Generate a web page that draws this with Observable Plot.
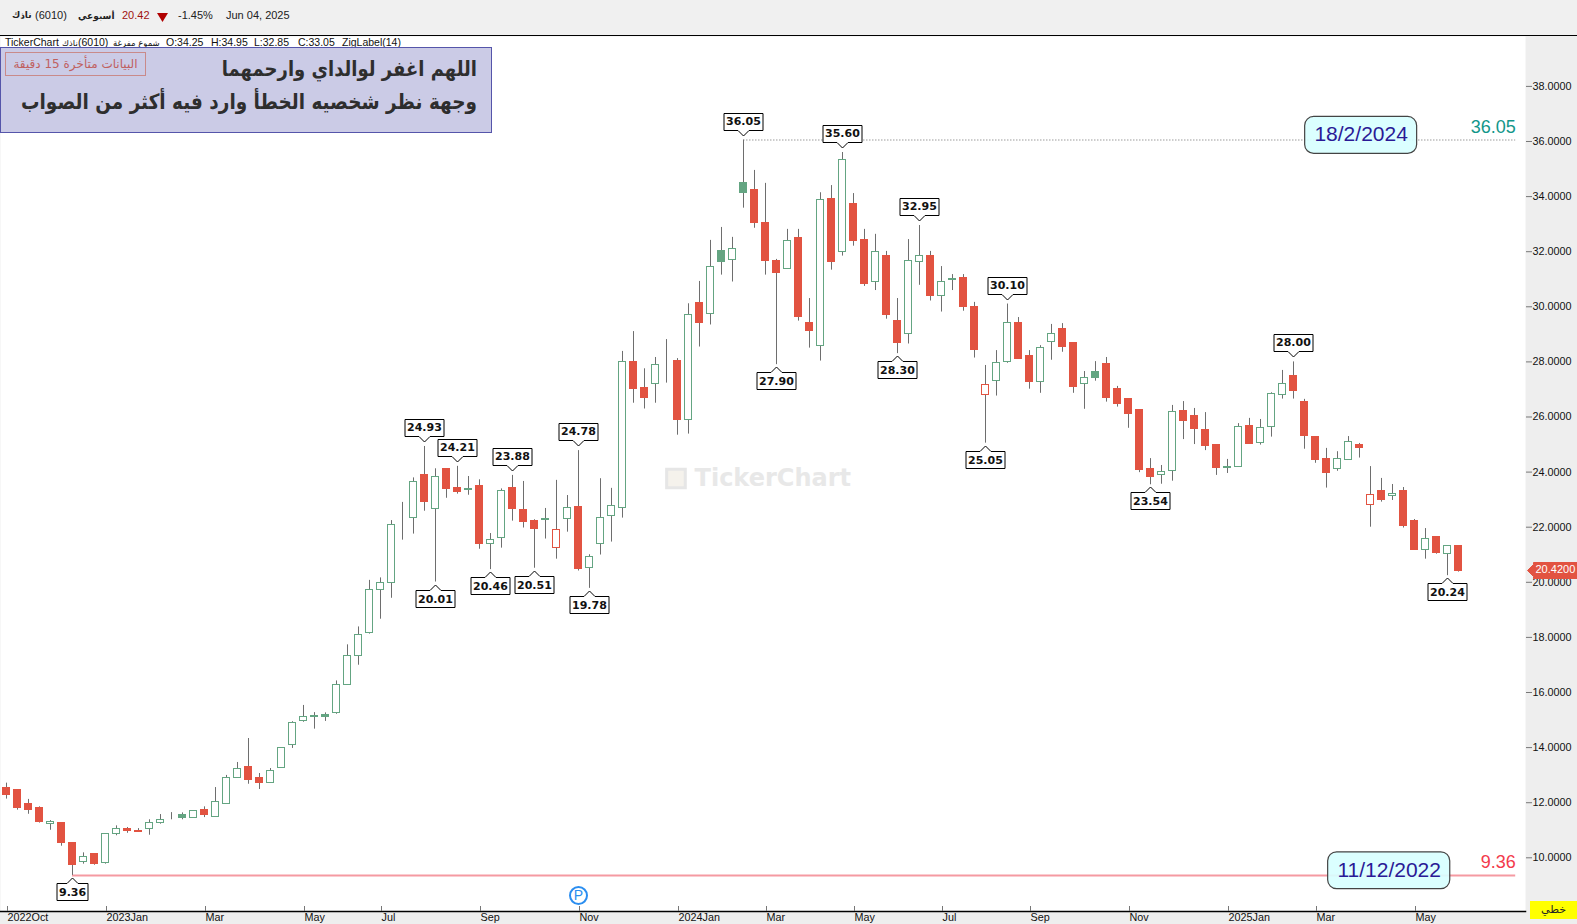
<!DOCTYPE html>
<html lang="ar">
<head>
<meta charset="utf-8">
<script src="https://cdn.jsdelivr.net/npm/d3@7"></script>
<script src="https://cdn.jsdelivr.net/npm/@observablehq/plot@0.6"></script>
<style>
html,body{margin:0;padding:0;background:#fff;width:1577px;height:924px;overflow:hidden;font-family:"Liberation Sans",sans-serif;}
#top{position:absolute;left:0;top:0;width:1577px;height:36px;background:#f0f0f0;border-bottom:1.5px solid #000;box-sizing:border-box;}
.t{position:absolute;white-space:nowrap;line-height:1;}
#chart{position:absolute;left:0;top:36px;}
#chart svg{display:block;background:#eeeeee;}
#info{position:absolute;left:0;top:47px;width:492px;height:86px;box-sizing:border-box;background:#cbcbe6;border:1.5px solid #5555aa;}
#delay{position:absolute;left:5px;top:52px;width:141px;height:24px;box-sizing:border-box;border:1px solid #c98a8a;color:#c0605f;font:12px "DejaVu Sans",sans-serif;text-align:center;line-height:22px;direction:rtl;white-space:nowrap;}
.ar{position:absolute;right:1100px;white-space:nowrap;direction:rtl;font:bold 18px "DejaVu Sans",sans-serif;color:#2e2e2e;line-height:1;transform:scaleY(1.15);transform-origin:right center;}
#scale{position:absolute;left:1530px;top:901px;width:47px;height:18px;background:#ffff00;text-align:center;font:11px "DejaVu Sans",sans-serif;line-height:18px;color:#222;}
</style>
</head>
<body>
<div id="chart"></div>
<div id="top"></div>
<div class="t" style="left:12px;top:10px;font:bold 9px 'DejaVu Sans';color:#222">ناذك</div>
<div class="t" style="left:35px;top:10px;font-size:11px;color:#222">(6010)</div>
<div class="t" style="left:78px;top:11px;font:bold 9px 'DejaVu Sans';color:#222" dir="rtl">أسبوعي</div>
<div class="t" style="left:122px;top:10px;font-size:11px;color:#a01010">20.42</div>
<svg style="position:absolute;left:157px;top:12px" width="12" height="11"><path d="M0,1H11L5.500,10Z" fill="#b00000"/></svg>
<div class="t" style="left:178px;top:10px;font-size:11px;color:#222">-1.45%</div>
<div class="t" style="left:226px;top:10px;font-size:11px;color:#222">Jun 04, 2025</div>

<div class="t" style="left:5px;top:37px;font-size:10.5px;color:#111">TickerChart</div>
<div class="t" style="left:62px;top:38px;font:8.5px 'DejaVu Sans';color:#111">ناذك</div>
<div class="t" style="left:78px;top:37px;font-size:10.5px;color:#111">(6010)</div>
<div class="t" style="left:113px;top:38px;font:8.5px 'DejaVu Sans';color:#111" dir="rtl">شموع مفرغة</div>
<div class="t" style="left:166px;top:37px;font-size:10.5px;color:#111">O:34.25</div>
<div class="t" style="left:211px;top:37px;font-size:10.5px;color:#111">H:34.95</div>
<div class="t" style="left:254px;top:37px;font-size:10.5px;color:#111">L:32.85</div>
<div class="t" style="left:298px;top:37px;font-size:10.5px;color:#111">C:33.05</div>
<div class="t" style="left:342px;top:37px;font-size:10.5px;color:#111">ZigLabel(14)</div>

<div id="info"></div>
<div id="delay">البيانات متأخرة 15 دقيقة</div>
<div class="ar" style="top:60px">اللهم اغفر لوالداي وارحمهما</div>
<div class="ar" style="top:93px;font-size:18.45px">وجهة نظر شخصيه الخطأ وارد فيه أكثر من الصواب</div>
<div id="scale" dir="rtl">خطي</div>

<script>
const open = [12.54,12.47,11.96,11.81,11.23,11.27,10.54,9.85,10.14,9.80,
10.86,11.06,10.98,11.05,11.26,11.38,11.57,11.45,11.75,11.48,
11.96,12.89,13.31,12.88,12.71,13.25,14.09,14.98,15.15,15.17,
15.26,16.28,17.33,18.15,19.73,19.98,22.34,22.33,23.88,22.66,
24.12,23.41,23.39,23.48,21.40,21.62,23.41,22.64,22.21,22.30,
21.24,22.30,22.72,20.53,21.40,22.41,22.70,27.98,27.07,27.21,
28.00,28.02,25.90,30.12,29.73,32.01,31.71,34.51,34.25,33.03,
31.68,31.38,32.48,29.43,28.58,33.90,32.00,33.72,32.41,30.90,
31.86,29.50,29.02,31.63,31.86,30.40,31.02,31.03,30.01,26.79,
27.31,28.00,29.43,28.23,27.28,28.73,29.21,28.67,27.19,27.65,
27.91,27.00,26.67,26.27,24.13,23.90,24.05,26.20,26.02,25.51,
24.97,24.20,24.18,25.66,25.06,25.64,26.80,27.47,26.53,25.26,
24.49,24.12,24.45,25.00,22.81,23.33,23.14,23.33,22.21,21.18,
21.63,21.03,21.30];
const high = [12.71,12.47,12.12,11.85,11.35,11.27,10.54,10.18,10.14,10.87,
11.16,11.10,11.06,11.38,11.57,11.64,11.63,11.71,11.85,12.55,
12.99,13.46,14.33,13.06,13.24,13.99,14.94,15.53,15.27,15.26,
16.42,17.73,18.38,20.07,20.16,22.24,22.90,23.79,24.93,24.12,
24.12,24.21,23.84,23.72,21.77,23.39,23.88,23.66,22.27,22.68,
23.70,23.15,24.78,21.00,23.76,23.41,28.38,29.10,27.75,28.16,
28.81,28.12,30.11,30.92,32.41,32.88,32.52,36.05,34.95,34.48,
31.72,32.81,32.81,30.30,34.14,34.40,35.60,34.11,32.81,32.63,
32.01,30.30,32.44,32.95,32.01,31.46,31.17,31.17,30.16,27.87,
28.41,30.10,29.61,28.41,28.59,29.36,29.39,28.70,27.65,28.01,
28.16,27.11,26.67,26.27,24.49,24.24,26.42,26.56,26.31,26.16,
24.97,24.46,25.76,25.95,25.91,26.88,27.69,28.00,26.64,25.29,
24.86,24.74,25.29,25.04,24.20,23.77,23.55,23.44,22.28,21.95,
21.66,21.32,21.30];
const low = [12.13,11.73,11.58,11.26,11.00,10.42,9.36,9.77,9.73,9.77,
10.80,10.89,10.93,10.82,11.22,11.38,11.38,11.45,11.46,11.48,
11.96,12.89,12.67,12.48,12.71,13.25,13.97,14.92,14.67,14.95,
15.21,16.28,16.99,18.12,18.66,19.42,21.53,21.75,22.58,20.01,
23.05,23.20,23.16,21.20,20.46,21.24,22.22,21.97,20.51,21.57,
20.84,21.82,20.41,19.78,20.99,21.46,22.33,26.50,26.29,26.50,
27.23,25.34,25.38,28.54,29.34,31.15,30.90,33.58,32.85,31.15,
27.90,31.38,29.48,28.50,28.03,31.33,31.84,32.20,30.74,30.59,
29.55,28.30,28.65,30.78,30.21,29.81,30.59,29.84,28.14,25.05,
26.76,27.95,28.10,27.01,26.86,28.06,28.35,26.86,26.28,27.30,
26.54,26.36,25.59,23.98,23.54,23.56,23.67,25.18,25.00,24.78,
23.88,23.95,24.18,25.01,24.98,25.27,26.65,26.65,24.83,24.32,
23.42,24.03,24.45,24.51,22.00,22.91,22.97,21.97,21.17,20.84,
21.02,20.24,20.37];
const close = [12.27,11.80,11.73,11.29,11.31,10.53,9.73,10.03,9.77,10.87,
11.04,10.97,10.93,11.26,11.38,11.38,11.44,11.71,11.54,12.03,
12.90,13.23,12.84,12.73,13.16,13.99,14.90,15.10,15.10,15.12,
16.28,17.33,18.09,19.73,19.98,22.09,22.34,23.65,22.91,23.83,
23.38,23.27,23.35,21.39,21.54,23.32,22.66,22.18,21.92,22.26,
21.91,22.70,20.47,20.93,22.34,22.78,28.00,27.01,26.68,27.89,
28.00,25.89,29.71,29.43,31.45,31.62,32.11,34.13,33.05,31.66,
31.22,32.40,29.63,29.12,33.88,31.62,35.34,32.38,30.82,32.00,
29.70,28.68,31.67,31.85,30.39,30.91,30.97,29.99,28.43,27.17,
27.97,29.42,28.10,27.26,28.51,29.02,28.53,27.08,27.42,27.42,
26.68,26.47,26.10,24.09,23.82,24.01,26.19,25.87,25.56,24.94,
24.14,24.15,25.64,25.01,25.61,26.84,27.20,26.94,25.30,24.43,
23.96,24.48,25.10,24.87,23.18,22.97,23.22,22.04,21.17,21.58,
21.06,21.32,20.42];

const monthTicks = [0,9,18,27,34,43,52,61,69,77,85,93,102,111,119,128];
const monthLabels = ["2022Oct","2023Jan","Mar","May","Jul","Sep","Nov","2024Jan","Mar","May","Jul","Sep","Nov","2025Jan","Mar","May"];
const priceTicks = [10,12,14,16,18,20,22,24,26,28,30,32,34,36,38];

const peakIdx = [38,41,46,52,67,76,83,91,117];
const peakVal = [24.93,24.21,23.88,24.78,36.05,35.60,32.95,30.10,28.00];
const troughIdx = [6,39,44,48,53,70,81,89,104,131];
const troughVal = [9.36,20.01,20.46,20.51,19.78,27.90,28.30,25.05,23.54,20.24];

const lastPrice = 20.42;
const highLevel = {i:67, v:36.05, date:"18/2/2024", at:123.15, half:5.09};
const lowLevel = {i:6, v:9.36, date:"11/12/2022", at:125.7, half:5.55};

const GREEN="#64a582", RED="#e25341", WICK="#6e6e6e";
const candles = open.map((o,i)=>({i,o,h:high[i],l:low[i],c:close[i],prev:i?close[i-1]:Infinity}));
const peaks = peakIdx.map((i,k)=>({i,v:peakVal[k]}));
const troughs = troughIdx.map((i,k)=>({i,v:troughVal[k]}));
const color = d => d.o===d.c ? WICK : (d.c>=d.prev ? GREEN : RED);
const tickLabel = new Map(monthTicks.map((t,k)=>[t,monthLabels[k]]));
const tipStyle = {title:d=>d.v.toFixed(2),pointerSize:11,textPadding:2,lineHeight:1,fontSize:11,fontWeight:"bold",
  fontFamily:"DejaVu Sans",fill:"white",stroke:"black",strokeWidth:1,pathFilter:"none"};
const rightEnd = 137.2, frameEnd = 1519/11;

const chart = Plot.plot({
  width:1577, height:888, marginTop:0, marginBottom:13, marginLeft:0, marginRight:52,
  style:{fontFamily:"Liberation Sans",fontSize:"10.8px",color:"#111",background:"#eeeeee"},
  x:{domain:[-6/11,frameEnd],axis:null},
  y:{domain:[8.051,39.811],axis:null},
  marks:[
    Plot.frame({fill:"white",stroke:"none"}),
    Plot.dot([{i:60.86,v:23.77}],{x:"i",y:"v",symbol:"square",r:10.5,fill:"#f5f2ec",stroke:"#e6e6e6",strokeWidth:3}),
    Plot.text([{i:62.55,v:23.77}],{x:"i",y:"v",text:()=>"TickerChart",textAnchor:"start",fontSize:24,fontWeight:"bold",fontFamily:"DejaVu Sans",fill:"#e8e8e8"}),
    Plot.ruleY([highLevel],{x1:"i",x2:()=>rightEnd,y:"v",stroke:"#bdbdbd",strokeWidth:1.5,strokeDasharray:"1.5 1.5"}),
    Plot.ruleY([lowLevel],{x1:"i",x2:()=>rightEnd,y:"v",stroke:"#f59aa2",strokeWidth:2}),
    Plot.ruleX(candles,{x:"i",y1:"l",y2:"h",stroke:WICK,strokeWidth:1}),
    Plot.rect(candles,{x1:d=>d.i-0.32,x2:d=>d.i+0.32,y1:d=>Math.min(d.o,d.c),y2:d=>Math.max(d.o,d.c),
      fill:d=>d.c>=d.o?"white":color(d),stroke:color,strokeWidth:1,shapeRendering:"crispEdges"}),
    Plot.rect([highLevel,lowLevel],{x1:d=>d.at-d.half,x2:d=>d.at+d.half,y1:d=>d.v-0.5,y2:d=>d.v+0.84,rx:9,
      fill:"#d8ffff",fillOpacity:0.92,stroke:"#444",strokeWidth:1.2}),
    Plot.text([highLevel,lowLevel],{x:"at",y:d=>d.v+0.2,text:"date",fontSize:21,fill:"#2a1a96"}),
    Plot.text([highLevel],{x:()=>rightEnd,y:"v",text:d=>d.v.toFixed(2),textAnchor:"end",dy:-13,fontSize:18,fill:"#12968a"}),
    Plot.text([lowLevel],{x:()=>rightEnd,y:"v",text:d=>d.v.toFixed(2),textAnchor:"end",dy:-13,fontSize:18,fill:"#f33a4c"}),
    Plot.dot([{i:52,v:8.63}],{x:"i",y:"v",r:8.5,fill:"white",stroke:"#2b8ef0",strokeWidth:2}),
    Plot.text([{i:52,v:8.63}],{x:"i",y:"v",text:()=>"P",fontSize:14,fill:"#2b8ef0"}),
    Plot.tip(peaks,{x:"i",y:"v",anchor:"bottom",dy:-4.5,...tipStyle}),
    Plot.tip(troughs,{x:"i",y:"v",anchor:"top",dy:2.5,...tipStyle}),
    Plot.frame({anchor:"bottom",stroke:"black",strokeWidth:1.5}),
    Plot.axisX({ticks:monthTicks,tickFormat:d=>tickLabel.get(d),anchor:"bottom",tickSize:-5,tickPadding:7,textAnchor:"start",dx:1,stroke:"#777",fill:"#111",fontSize:10.8}),
    Plot.axisY({ticks:priceTicks,tickFormat:d=>d.toFixed(4),anchor:"right",tickSize:6,tickPadding:1,stroke:"#777",fill:"#111",fontSize:10.8}),
    Plot.tip([{i:frameEnd,v:lastPrice}],{x:"i",y:"v",title:d=>d.v.toFixed(4),anchor:"left",dx:2,pointerSize:12,textPadding:2,lineHeight:1.2,fontSize:11,
      fontFamily:"Liberation Sans",fill:RED,stroke:RED,pathFilter:"none"})
  ]
});
document.getElementById("chart").appendChild(chart);
const tips = chart.querySelectorAll('g[aria-label="tip"]');
tips[tips.length-1].style.color = "#fff";
// Plot sizes each tip's frame just after insertion; then put its label directly in its <text>.
requestAnimationFrame(()=>requestAnimationFrame(()=>{
  chart.querySelectorAll('g[aria-label="tip"] text').forEach(t=>{
    const s=t.querySelector("tspan");
    if(!s) return;
    const y=parseFloat(t.getAttribute("y"))+parseFloat(s.getAttribute("dy"));
    const v=s.textContent; s.remove(); t.textContent=v; t.setAttribute("y",y+"em");
  });
}));
</script>
</body>
</html>
